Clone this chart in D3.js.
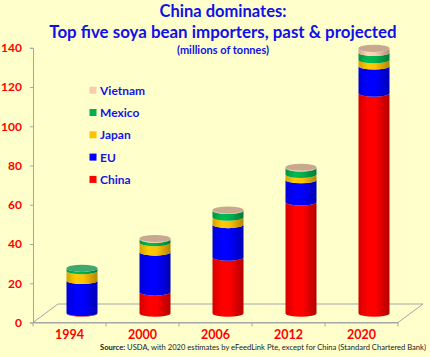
<!DOCTYPE html>
<html>
<head>
<meta charset="utf-8">
<script src="https://cdn.jsdelivr.net/npm/d3@7"></script>
<style>
  html, body { margin: 0; padding: 0; background: #FFFFCC; }
  svg { display: block; }
  text { font-family: Lato, "Open Sans", sans-serif; }
</style>
</head>
<body>
<svg id="chart" width="430" height="357"></svg>
<script>
// ---- data ----
const years   = ["1994", "2000", "2006", "2012", "2020"];
const china   = [0.3, 10.8, 28.6, 56.7, 112.2];
const eu      = [16.4, 20.4, 16.6, 11.4, 13.8];
const japan   = [5.0, 4.8, 3.8, 2.7, 3.2];
const mexico  = [1.2, 1.8, 3.4, 3.3, 3.7];
const vietnam = [0.0, 0.3, 0.2, 0.3, 2.1];
const seriesNames = ["China", "EU", "Japan", "Mexico", "Vietnam"];
const yTicks = [0, 20, 40, 60, 80, 100, 120, 140];

const seriesValues = [china, eu, japan, mexico, vietnam];
const colors = ["#FF0000", "#0000FF", "#FFC000", "#00B050", "#F8CBAD"];
const topColors = ["#E06060", "#6060D0", "#E8C060", "#3FA870", "#C9A890"];

const svg = d3.select("#chart");
const W = 430, H = 357;
svg.append("rect").attr("width", W).attr("height", H).attr("fill", "#FFFFCC");

// scales
const x = d3.scaleBand().domain(years).range([33, 398]).paddingInner(0).paddingOuter(0);
const y = d3.scaleLinear().domain([0, 140]).range([322.5, 47.8]);
const depthDx = 25, depthDy = -18.5;

// floor
const fl = [[33, 322.5], [398, 322.5], [398 + depthDx, 322.5 + depthDy], [33 + depthDx, 322.5 + depthDy]];
svg.append("path")
  .attr("d", "M" + fl.map(p => p.join(",")).join("L") + "Z")
  .attr("fill", "none").attr("stroke", "#A6A6A6").attr("stroke-width", 1);

// y axis
const yAxis = d3.axisLeft(y).tickValues(yTicks).tickSize(3).tickPadding(8).tickFormat(d3.format("d"));
const gy = svg.append("g").attr("transform", "translate(33,0)").call(yAxis);
gy.select(".domain").attr("stroke", "#A6A6A6");
gy.selectAll(".tick line").attr("stroke", "#A6A6A6");
gy.selectAll(".tick text").attr("fill", "#FF0000").attr("font-weight", "bold")
  .attr("font-size", 12).style("font-family", "Lato, sans-serif");

// x axis
const xAxis = d3.axisBottom(x).tickSize(0).tickPadding(7.5);
const gx = svg.append("g").attr("transform", "translate(0,322.5)").call(xAxis);
gx.select(".domain").attr("stroke", "#A6A6A6");
gx.selectAll(".tick text").attr("fill", "#FF0000").attr("font-weight", "bold")
  .attr("font-size", 12.5).style("font-family", "Lato, sans-serif");
// category boundary ticks
const bounds = years.map(d => x(d)).concat([x.range()[1]]);
svg.append("g").selectAll("line").data(bounds).join("line")
  .attr("x1", d => d).attr("x2", d => d).attr("y1", 322.5).attr("y2", 326.5)
  .attr("stroke", "#A6A6A6");

// gradients
const defs = svg.append("defs");
colors.forEach((c, i) => {
  const g = defs.append("linearGradient").attr("id", "grad" + i)
    .attr("x1", "0").attr("x2", "1").attr("y1", "0").attr("y2", "0");
  const base = d3.color(c);
  g.append("stop").attr("offset", "0%").attr("stop-color", base.darker(0.5));
  g.append("stop").attr("offset", "30%").attr("stop-color", base.brighter(0.15));
  g.append("stop").attr("offset", "55%").attr("stop-color", c);
  g.append("stop").attr("offset", "100%").attr("stop-color", base.darker(1.0));
});

// cylinders
const rx = 15.5, ry = 3.6;
const bars = svg.append("g");
years.forEach((yr, j) => {
  const cx = x(yr) + x.bandwidth() / 2 + depthDx / 2;
  const off = depthDy / 2;
  let cum = 0;
  let topIdx = 0;
  seriesValues.forEach((vals, i) => {
    const v0 = cum, v1 = cum + vals[j];
    cum = v1;
    if (vals[j] <= 0) return;
    topIdx = i;
    const y0 = y(v0) + off, y1 = y(v1) + off;
    const L = cx - rx, R = cx + rx;
    const d = `M${L},${y1} A${rx},${ry} 0 0 0 ${R},${y1} L${R},${y0} A${rx},${ry} 0 0 1 ${L},${y0} Z`;
    bars.append("path").attr("d", d).attr("fill", `url(#grad${i})`);
  });
  const yt = y(cum) + off;
  bars.append("ellipse").attr("cx", cx).attr("cy", yt).attr("rx", rx).attr("ry", ry)
    .attr("fill", topColors[topIdx]);
});

// legend
const legendOrder = [4, 3, 2, 1, 0];
const lg = svg.append("g");
legendOrder.forEach((si, k) => {
  const ly = 90.5 + k * 22.3;
  lg.append("rect").attr("x", 89.5).attr("y", ly - 3.8).attr("width", 7).attr("height", 7)
    .attr("fill", colors[si]);
  lg.append("text").attr("x", 100).attr("y", ly).attr("dy", "0.35em")
    .attr("fill", "#1414E6").attr("font-weight", "bold").attr("font-size", 12)
    .text(seriesNames[si]);
});

// titles
svg.append("text").attr("x", 223).attr("y", 16.5).attr("text-anchor", "middle")
  .attr("fill", "#1010E8").attr("font-weight", "bold").attr("font-size", 16.5)
  .text("China dominates:");
svg.append("text").attr("x", 223).attr("y", 37.8).attr("text-anchor", "middle")
  .attr("fill", "#1010E8").attr("font-weight", "bold").attr("font-size", 16.9)
  .text("Top five soya bean importers, past & projected");
svg.append("text").attr("x", 223).attr("y", 54.3).attr("text-anchor", "middle")
  .attr("fill", "#1010E8").attr("font-weight", "bold").attr("font-size", 11)
  .text("(millions of tonnes)");

// source
const src = svg.append("text").attr("x", 426).attr("y", 350).attr("text-anchor", "end")
  .attr("fill", "#222").attr("font-size", 7.6);
src.append("tspan").attr("font-weight", "bold").text("Source:");
src.append("tspan").text(" USDA, with 2020 estimates by eFeedLink  Pte, except for China (Standard Chartered Bank)");
</script>
</body>
</html>
